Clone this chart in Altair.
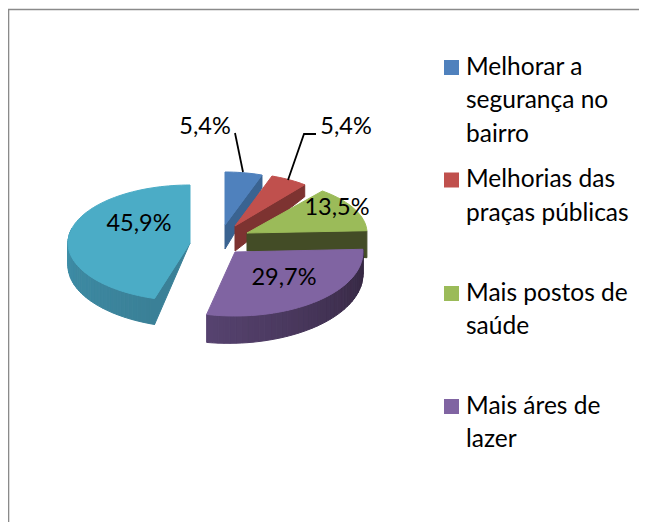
import math
import altair as alt
import pandas as pd

# ---- chart values ----
categories = ["Melhorar a segurança no bairro", "Melhorias das praças públicas",
              "Mais postos de saúde", "Mais áres de lazer", "(sem legenda)"]
shares = [5.4, 5.4, 13.5, 29.7, 45.9]
value_labels = ["5,4%", "5,4%", "13,5%", "29,7%", "45,9%"]
top_colors = ["#4f81bd", "#c0504d", "#9bbb59", "#8064a2", "#4bacc6"]
legend_lines = [["Melhorar a", "segurança no", "bairro"],
                ["Melhorias das", "praças públicas"],
                ["Mais postos de", "saúde"],
                ["Mais áres de", "lazer"]]

# ---- layout of the exploded 3-D pie (reference pixels) ----
W, H = 639, 522
apex = [(225, 225), (235, 226), (247, 233), (235, 252), (190, 243)]
radii = [(111, 53), (111, 53), (120, 54), (128, 64), (122, 58)]
# small perspective correction of the slice edges, in degrees (start, end)
perspective = [(0, 0), (0, 0), (0, 0), (0, -1.8), (2.3, 0)]
label_pos = [(205, 127), (346, 127), (337, 208), (284, 278), (139, 224)]
legend_y = [67.5, 180, 293.5, 406.5]
LINE = 33.5


def hexmix(a, b, t):
    ca = [int(a[i:i + 2], 16) for i in (1, 3, 5)]
    cb = [int(b[i:i + 2], 16) for i in (1, 3, 5)]
    return "#" + "".join(f"{round(x + (y - x) * t):02x}" for x, y in zip(ca, cb))


def rim(i, deg):
    a = math.radians(deg)
    return (apex[i][0] + radii[i][0] * math.sin(a), apex[i][1] - radii[i][1] * math.cos(a))


total = sum(shares)
edges = [0]
for s in shares:
    edges.append(edges[-1] + s / total * 360)
starts = [edges[i] + perspective[i][0] for i in range(5)]
ends = [edges[i + 1] + perspective[i][1] for i in range(5)]

rows = []
pid = 0


def poly(points, color):
    global pid
    for k, (x, y) in enumerate(points):
        rows.append({"p": pid, "k": k, "x": x, "y": y, "c": color})
    pid += 1


def face(i):
    n = max(6, int((ends[i] - starts[i]) / 2))
    pts = [apex[i]]
    for j in range(n + 1):
        pts.append(rim(i, starts[i] + (ends[i] - starts[i]) * j / n))
    poly(pts, top_colors[i])


def radial_wall(i, deg, d_apex, d_rim, color):
    r = rim(i, deg)
    a = apex[i]
    poly([a, r, (r[0], r[1] + d_rim), (a[0], a[1] + d_apex)], color)


def rim_wall(i, d0, d1, dep0, dep1, c0, c1, n=40):
    for j in range(n):
        t0, t1 = j / n, (j + 1) / n
        p0 = rim(i, d0 + (d1 - d0) * t0)
        p1 = rim(i, d0 + (d1 - d0) * t1)
        e0 = dep0 + (dep1 - dep0) * t0
        e1 = dep0 + (dep1 - dep0) * t1
        poly([p0, p1, (p1[0], p1[1] + e1), (p0[0], p0[1] + e0)], hexmix(c0, c1, t0))


# blue
radial_wall(0, ends[0], 24, 13, "#3a6391")
face(0)
# red
radial_wall(1, ends[1], 25, 12, "#7d3331")
face(1)
# green
radial_wall(2, ends[2], 18, 27, "#434c26")
face(2)
# purple
rim_wall(3, starts[3], ends[3], 22, 28, "#33263f", "#574370")
face(3)
# teal
rim_wall(4, starts[4], 285, 26, 22, "#3a8097", "#3f90aa")
radial_wall(4, starts[4], 0, 26, "#3a8097")
face(4)

polys = pd.DataFrame(rows)

xs = alt.Scale(domain=[8, W], nice=False, zero=False)
ys = alt.Scale(domain=[H, 8], nice=False, zero=False)
X = lambda f="x": alt.X(f"{f}:Q", scale=xs, axis=None)
Y = lambda f="y": alt.Y(f"{f}:Q", scale=ys, axis=None)

slices = alt.Chart(polys).mark_line(interpolate="linear-closed", strokeWidth=1).encode(
    x=X(), y=Y(), detail="p:N", order="k:Q",
    fill=alt.Fill("c:N", scale=None), stroke=alt.Stroke("c:N", scale=None))

frame_df = pd.DataFrame([
    {"s": 0, "k": 0, "x": 8.5, "y": H}, {"s": 0, "k": 1, "x": 8.5, "y": 9.5},
    {"s": 0, "k": 2, "x": W, "y": 9.5}])
frame = alt.Chart(frame_df).mark_line(color="#8a8a8a", strokeWidth=1.6).encode(
    x=X(), y=Y(), order="k:Q")

lead_df = pd.DataFrame([
    {"s": 0, "k": 0, "x": 235, "y": 133}, {"s": 0, "k": 1, "x": 243, "y": 172},
    {"s": 1, "k": 0, "x": 316, "y": 134}, {"s": 1, "k": 1, "x": 304, "y": 134},
    {"s": 1, "k": 2, "x": 288, "y": 180}])
leaders = alt.Chart(lead_df).mark_line(color="#000000", strokeWidth=1.8).encode(
    x=X(), y=Y(), detail="s:N", order="k:Q")

FONT = "Lato"
lab_df = pd.DataFrame({"t": value_labels, "x": [p[0] for p in label_pos], "y": [p[1] for p in label_pos]})
labels = alt.Chart(lab_df).mark_text(font=FONT, fontSize=23.5, color="#000000",
                                     align="center", baseline="middle").encode(
    x=X(), y=Y(), text="t:N")

sw_df = pd.DataFrame({"x": [444] * 4, "x2": [459] * 4,
                      "y": [v - 7.5 for v in legend_y], "y2": [v + 7.5 for v in legend_y],
                      "c": top_colors[:4]})
swatches = alt.Chart(sw_df).mark_rect().encode(
    x=X(), x2="x2:Q", y=Y(), y2="y2:Q", color=alt.Color("c:N", scale=None))

lg_rows = []
for y0, lines in zip(legend_y, legend_lines):
    for n, line in enumerate(lines):
        lg_rows.append({"t": line, "x": 466, "y": y0 + n * LINE})
legend_text = alt.Chart(pd.DataFrame(lg_rows)).mark_text(
    font=FONT, fontSize=24.5, color="#000000", align="left", baseline="middle").encode(
    x=X(), y=Y(), text="t:N")

chart = alt.layer(frame, slices, leaders, labels, swatches, legend_text).properties(
    width=W - 8, height=H - 8, padding=0, background="#ffffff",
    autosize=alt.AutoSizeParams(type="none", contains="padding")
).configure_view(stroke=None)

chart.save("out.html", embed_options={"renderer": "svg", "actions": False})
